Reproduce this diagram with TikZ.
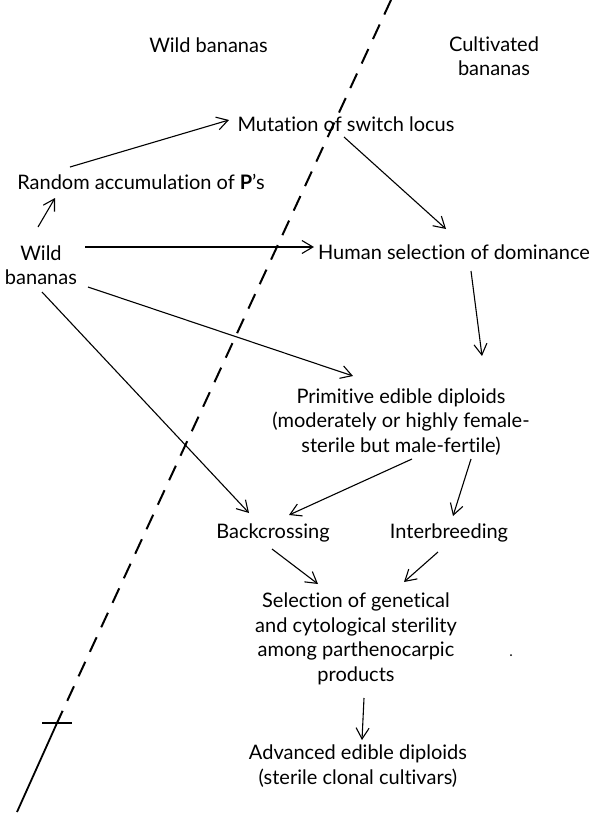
\documentclass[tikz,border=0pt]{standalone}
\usepackage{fontspec}
\setmainfont{Lato}[Ligatures=NoCommon]
\usetikzlibrary{arrows.meta,calc}
\begin{document}
\begin{tikzpicture}[x=1pt,y=-1pt,
  lbl/.style={align=center,inner sep=0pt,font=\fontsize{20}{24.5}\selectfont},
  arr/.style={line width=1.1pt,-{Straight Barb[length=11pt,width=13pt,line width=1.1pt]}},
  divider/.style={line width=2pt,dash pattern=on 16pt off 11pt},
  solidpart/.style={line width=1.8pt}]
\useasboundingbox (0,0) rectangle (592,814);
% headers
\node[lbl] (hdrw) at (208.5,45) {Wild bananas};
\node[lbl] (hdrc) at (494,56) {Cultivated\\bananas};
% boxes
\node[lbl] (mut) at (346,124) {Mutation of switch locus};
\node[lbl] (rand) at (141,182) {Random accumulation of \textbf{P}’s};
\node[lbl] (wild) at (41,265) {Wild\\bananas};
\node[lbl] (hum) at (454,252) {Human selection of dominance};
\node[lbl] (prim) at (401,422) {Primitive edible diploids\\(moderately or highly female-\\sterile but male-fertile)};
\node[lbl] (back) at (273,533) {Backcrossing};
\node[lbl] (inter) at (449,533) {Interbreeding};
\node[lbl] (sel) at (356,639) {Selection of genetical\\and cytological sterility\\among parthenocarpic\\products};
\node[lbl] (adv) at (358,766) {Advanced edible diploids\\(sterile clonal cultivars)};
% divider
\coordinate (dtop) at (391,0);
\coordinate (dtick) at (57,723);
\coordinate (dbot) at (17,812);
\draw[divider] (dtop) -- (dtick);
\draw[solidpart] (dtick) -- (dbot);
\draw[solidpart] ($(dtick)+(-15,0)$) -- ($(dtick)+(15,0)$);
% connectors
\draw[arr] ($(rand.center)+(-71,-15)$) -- ($(mut.center)+(-117,-4)$);
\draw[arr] ($(wild.center)+(-3,-38)$) -- ($(rand.center)+(-86,16)$);
\draw[arr] ($(wild.center)+(44,-18)$) -- ($(hum.center)+(-140,-5)$);
\draw[arr] ($(mut.center)+(-2,13)$) -- ($(hum.center)+(-8,-23)$);
\draw[arr] ($(hum.center)+(17,19)$) -- ($(prim.center)+(81,-66)$);
\draw[arr] ($(wild.center)+(47,22)$) -- ($(prim.center)+(-48,-46)$);
\draw[arr] ($(wild.center)+(1,27)$) -- ($(back.center)+(-24,-20)$);
\draw[arr] ($(prim.center)+(11,37)$) -- ($(back.center)+(16,-18)$);
\draw[arr] ($(prim.center)+(70,37)$) -- ($(inter.center)+(4,-17)$);
\draw[arr] ($(back.center)+(-1,16)$) -- ($(sel.center)+(-38,-55)$);
\draw[arr] ($(inter.center)+(-11,19)$) -- ($(sel.center)+(48,-57)$);
\draw[arr] ($(sel.center)+(8,59)$) -- ($(adv.center)+(4,-26)$);
% specks
\fill (511,655) circle (1pt);
\end{tikzpicture}
\end{document}
